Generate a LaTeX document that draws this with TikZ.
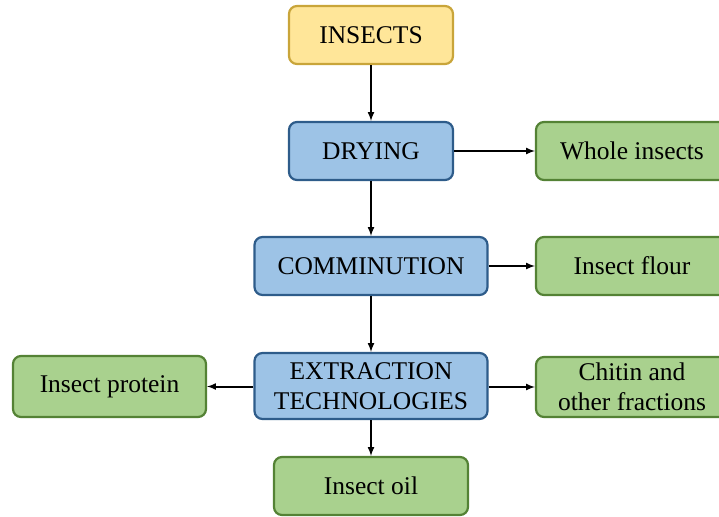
\documentclass[tikz,border=0pt]{standalone}
\usepackage{fontspec}
\setmainfont{Liberation Serif}
\usepackage{tikz}
\usepackage{xcolor}
\usetikzlibrary{arrows, positioning}

\definecolor{insectfill}{HTML}{FFE699}
\definecolor{insectline}{HTML}{C9A53A}
\definecolor{stepfill}{HTML}{9DC3E6}
\definecolor{stepline}{HTML}{2E5C8A}
\definecolor{productfill}{HTML}{A9D18E}
\definecolor{productline}{HTML}{548235}

\tikzset{
    box/.style={rectangle, rounded corners=8pt, line width=2.2pt, inner sep=0pt,
        align=center, font=\fontsize{25.5}{30}\selectfont},
    yellowbox/.style={box, draw=insectline, fill=insectfill},
    bluebox/.style={box, draw=stepline, fill=stepfill},
    greenbox/.style={box, draw=productline, fill=productfill},
    flow/.style={-latex, line width=2pt}
}

\begin{document}
\begin{tikzpicture}[x=1pt, y=-1pt]
                        \useasboundingbox (0, 0) rectangle (719, 516);

                        \node[yellowbox, minimum width=164pt, minimum height=58pt] (insects) at (371, 35) {INSECTS};
                        \node[bluebox, minimum width=164pt, minimum height=58pt] (drying) at (371, 151) {DRYING};
                        \node[bluebox, minimum width=233pt, minimum height=58pt] (comminution) at (371, 266) {COMMINUTION};
                        \node[bluebox, minimum width=233pt, minimum height=66pt] (extraction) at (371, 386) {EXTRACTION\\TECHNOLOGIES};

                        \node[greenbox, minimum width=192pt, minimum height=58pt] (whole) at (632, 151) {Whole insects};
                        \node[greenbox, minimum width=192pt, minimum height=58pt] (flour) at (632, 266) {Insect flour};
                        \node[greenbox, minimum width=192pt, minimum height=60pt] (chitin) at (632, 387) {Chitin and\\other fractions};
                        \node[greenbox, minimum width=193pt, minimum height=61pt] (protein) at (109.5, 386.5) {Insect protein};
                        \node[greenbox, minimum width=194pt, minimum height=58pt] (oil) at (371, 486) {Insect oil};

                        \draw[flow]
                        (insects) -- (drying);
                        \draw[flow]
                        (drying) -- (comminution);
                        \draw[flow]
                        (comminution) -- (extraction);
                        \draw[flow]
                        (extraction) -- (oil);
                        \draw[flow]
                        (drying) -- (whole);
                        \draw[flow]
                        (comminution) -- (flour);
                        \draw[flow]
                        (extraction.east |- chitin) -- (chitin);
                        \draw[flow]
                        (extraction.west |- protein) -- (protein);
                    \end{tikzpicture}
\end{document}
